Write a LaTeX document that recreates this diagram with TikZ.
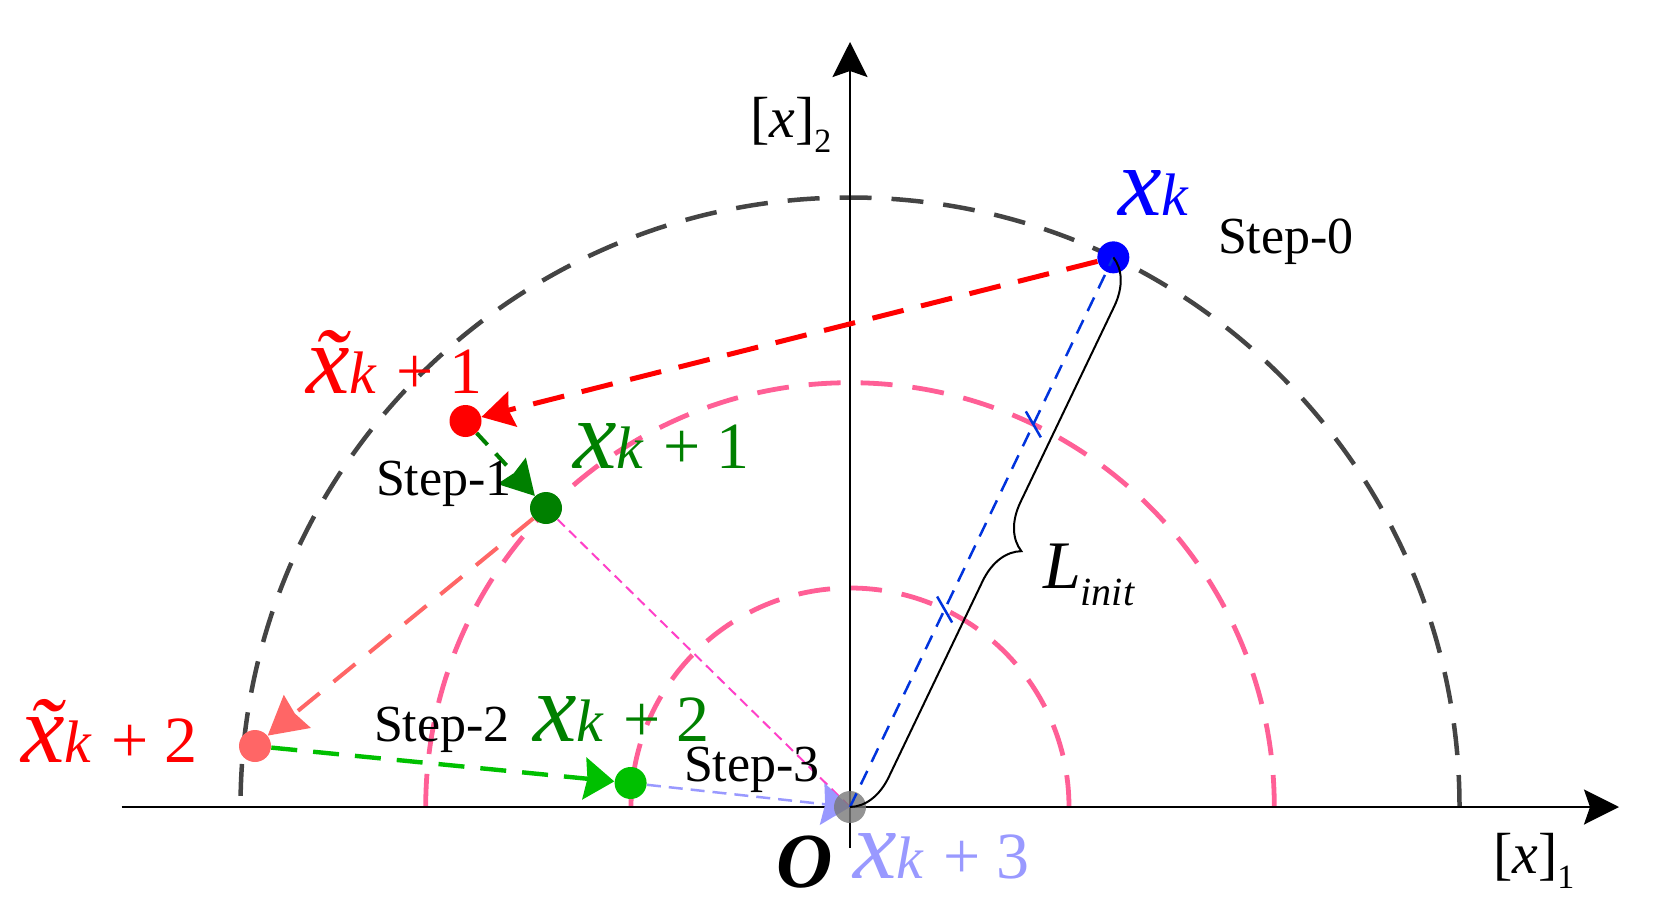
\documentclass[tikz,border=0pt]{standalone}
\usepackage{fontspec}
\setmainfont{Liberation Serif}
\usetikzlibrary{arrows.meta,calc,decorations.pathreplacing}
\pgfdeclarelayer{bg}
\pgfsetlayers{bg,main}
\definecolor{arcgray}{RGB}{68,68,68}
\definecolor{pinkc}{RGB}{255,95,150}
\definecolor{dgreen}{RGB}{0,128,0}
\definecolor{bgreen}{RGB}{0,192,0}
\definecolor{salmonc}{RGB}{255,102,102}
\definecolor{lav}{RGB}{153,153,255}
\definecolor{magl}{RGB}{255,64,200}
\definecolor{bline}{RGB}{0,51,221}
\newcommand\ptlab[3]{{\fontsize{49}{49}\selectfont\itshape #1}{\fontsize{30}{30}\selectfont\itshape k}\ifx\relax#2\relax\else{\fontsize{33}{33}\selectfont\hspace{10pt}+\hspace{8pt}#2}\fi}
\newcommand\steplab[1]{{\fontsize{26}{26}\selectfont Step-#1}}
\tikzset{
  dot/.style={circle, inner sep=0pt, minimum size=16pt},
  lbl/.style={anchor=base west, inner sep=0pt, outer sep=0pt},
  axisline/.style={line width=1.25pt, -{Stealth[length=17.5pt,width=17.5pt,inset=3pt]}},
  outerdash/.style={arcgray, line width=2.25pt, dash pattern=on 16pt off 10pt},
  pinkdash/.style={pinkc, line width=2.4pt, dash pattern=on 16pt off 10pt},
  redarr/.style={red, line width=2.5pt, dash pattern=on 16pt off 9pt, -{Stealth[length=16pt,width=18pt,inset=2pt]}},
  dgarr/.style={dgreen, line width=2pt, dash pattern=on 8pt off 6pt, -{Stealth[length=17pt,width=19pt,inset=1.5pt]}},
  salarr/.style={salmonc, line width=2pt, dash pattern=on 14pt off 9pt, -{Stealth[length=19pt,width=21pt,inset=1.5pt]}},
  bgarr/.style={bgreen, line width=2.2pt, dash pattern=on 13pt off 8pt, -{Stealth[length=15pt,width=21pt,inset=1.5pt]}},
  lavarr/.style={lav, line width=1.25pt, dash pattern=on 7pt off 4pt, -{Stealth[length=14pt,width=21pt,inset=1.5pt]}},
  magdash/.style={magl, line width=1pt, dash pattern=on 5pt off 3pt},
  bluedash/.style={bline, line width=1.25pt, dash pattern=on 7.5pt off 5pt},
  tickmark/.style={bline, line width=1.25pt},
  bracestyle/.style={black, line width=1pt, decorate, decoration={brace, amplitude=22pt}}
}
\begin{document}
\begin{tikzpicture}[x=0.5pt,y=0.5pt]
\useasboundingbox (0,0) rectangle (1659,918);
\coordinate (O) at (850,111);
\coordinate (xl) at (121.7,111);
\coordinate (xr) at (1619,111);
\coordinate (yb) at (850,70);
\coordinate (yt) at (850,876);
% dots
\node[dot, fill=blue] (xk) at ($(O)+(64.4:609.5)$) {};
\node[dot, fill=red] (xt1) at (465.5,497) {};
\node[dot, fill=dgreen] (x1) at (546,410) {};
\node[dot, fill=salmonc] (xt2) at (255,172) {};
\node[dot, fill=bgreen] (x2) at (630.6,135) {};
\begin{pgfonlayer}{bg}
  \draw[outerdash] ($(O)+(609.5,0)$) arc[start angle=0, end angle=180, radius=609.5];
  \draw[pinkdash] ($(O)+(424.3,0)$) arc[start angle=0, end angle=180, radius=424.3];
  \draw[pinkdash] ($(O)+(219,0)$) arc[start angle=0, end angle=180, radius=219];
  \draw[axisline] (xl) -- (xr);
  \draw[axisline] (yb) -- (yt);
  \draw[magdash] (x1) -- (O);
  \draw[redarr] (xk) -- (xt1);
  \draw[dgarr] (xt1) -- (x1);
  \draw[salarr] (x1) -- (xt2);
  \draw[bgarr] (xt2) -- (x2);
  \draw[lavarr] (x2) -- (O);
\end{pgfonlayer}
\node[dot, fill={rgb,255:red,120;green,120;blue,120}, fill opacity=0.8] (x3) at (O) {};
\draw[bluedash] (O) -- (xk.center);
\draw[tickmark] ($(O)+(64.4:219)+(120:15)$) -- ++(-60:30);
\draw[tickmark] ($(O)+(64.4:424.3)+(120:15)$) -- ++(-60:30);
\draw[bracestyle] (xk.center) -- (O);
% labels
\node[lbl, text=blue] (lxk) at (1118,703) {\ptlab{x}{}{}};
\node[lbl, text=red] (lxt1) at (306,525) {\ptlab{x̃}{1}{}};
\node[lbl, text=dgreen] (lx1) at (573,450) {\ptlab{x}{1}{}};
\node[lbl, text=red] (lxt2) at (21,156) {\ptlab{x̃}{2}{}};
\node[lbl, text=dgreen] (lx2) at (533,177) {\ptlab{x}{2}{}};
\node[lbl, text=lav] (lx3) at (853,40) {\ptlab{x}{3}{}};
\node[lbl] (s0) at (1218,665) {\steplab{0}};
\node[lbl] (s1) at (376,423) {\steplab{1}};
\node[lbl] (s2) at (374,177) {\steplab{2}};
\node[lbl] (s3) at (684,137) {\steplab{3}};
\node[lbl] (lL) at (1043,330) {{\fontsize{34}{34}\selectfont\itshape L}\raisebox{-8.5pt}{\fontsize{20}{20}\selectfont\itshape init}};
\node[lbl] (lO) at (776,31) {{\fontsize{39}{39}\selectfont\bfseries\itshape O}};
\node[lbl] (lx2ax) at (750,780) {{\fontsize{29}{29}\selectfont[\textit{x}]}\raisebox{-7.5pt}{\fontsize{17}{17}\selectfont 2}};
\node[lbl] (lx1ax) at (1493,45) {{\fontsize{29}{29}\selectfont[\textit{x}]}\raisebox{-7.5pt}{\fontsize{17}{17}\selectfont 1}};
\end{tikzpicture}
\end{document}
